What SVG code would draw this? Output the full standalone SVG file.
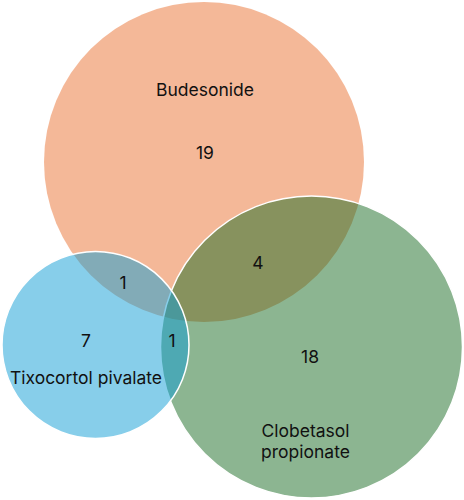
<svg xmlns="http://www.w3.org/2000/svg" width="464" height="500" viewBox="0 0 464 500">
<style>
.c{stroke:#ffffff;stroke-width:1.5;fill-opacity:0.5}
.t{font-family:Inter,"Noto Sans","Liberation Sans",sans-serif;font-size:17.5px;fill:#111111;text-anchor:middle}
</style>
<rect width="464" height="500" fill="#ffffff"/>
<g id="budesonide">
<circle class="c" cx="204" cy="162" r="160" fill="#E97132" stroke="none" style="stroke:none"/>
<text class="t" x="205" y="96">Budesonide</text>
</g>
<g id="clobetasol">
<circle class="c" cx="311.5" cy="347" r="151" fill="#196B24"/>
<text class="t" x="305.5" y="437">Clobetasol</text>
<text class="t" x="305.5" y="458">propionate</text>
</g>
<g id="tixocortol">
<circle class="c" cx="95.5" cy="345" r="93.5" fill="#0F9ED5"/>
<text class="t" x="86" y="384">Tixocortol pivalate</text>
</g>
<g id="counts">
<text class="t" x="205" y="159">19</text>
<text class="t" x="258" y="269">4</text>
<text class="t" x="123" y="289">1</text>
<text class="t" x="86" y="347">7</text>
<text class="t" x="172" y="347">1</text>
<text class="t" x="310" y="363">18</text>
</g>
</svg>
